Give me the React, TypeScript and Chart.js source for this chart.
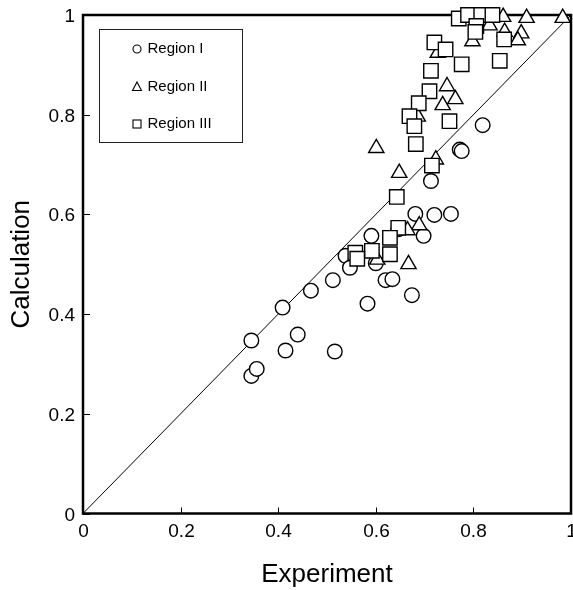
import React, { useEffect, useRef } from 'react';
import { Chart, registerables } from 'chart.js';

Chart.register(...registerables);

// Region I (circles)
const regionIX = [0.345, 0.356, 0.345, 0.409, 0.415, 0.440, 0.467, 0.516, 0.512, 0.538, 0.547, 0.583, 0.591, 0.600, 0.620, 0.634, 0.674, 0.681, 0.698, 0.720, 0.754, 0.713, 0.772, 0.776, 0.819, 0.646];
const regionIY = [0.276, 0.290, 0.347, 0.413, 0.327, 0.359, 0.447, 0.325, 0.468, 0.517, 0.493, 0.421, 0.557, 0.502, 0.468, 0.470, 0.438, 0.601, 0.557, 0.599, 0.601, 0.667, 0.730, 0.727, 0.779, 0.570];

// Region II (triangles)
const regionIIX = [0.601, 0.648, 0.723, 0.746, 0.763, 0.737, 0.686, 0.798, 0.861, 0.909, 0.983, 0.898, 0.891, 0.864, 0.833, 0.689, 0.665, 0.667, 0.603, 0.727];
const regionIIY = [0.733, 0.683, 0.710, 0.857, 0.831, 0.819, 0.796, 0.947, 0.996, 0.994, 0.994, 0.963, 0.949, 0.966, 0.979, 0.578, 0.568, 0.500, 0.509, 0.924];

// Region III (squares)
const regionIIIX = [0.770, 0.789, 0.816, 0.839, 0.806, 0.804, 0.863, 0.854, 0.776, 0.720, 0.743, 0.713, 0.710, 0.688, 0.669, 0.679, 0.682, 0.751, 0.715, 0.643, 0.646, 0.629, 0.592, 0.629, 0.558, 0.562];
const regionIIIY = [0.993, 1.000, 1.000, 1.000, 0.978, 0.966, 0.951, 0.908, 0.901, 0.945, 0.931, 0.888, 0.847, 0.823, 0.797, 0.777, 0.741, 0.787, 0.698, 0.635, 0.573, 0.553, 0.527, 0.520, 0.523, 0.511];

// y = x reference line
const diagonalX = [0, 1];
const diagonalY = [0, 1];

const seriesLabels = ['Region I', 'Region II', 'Region III'];
const xTickLabels = ['0', '0.2', '0.4', '0.6', '0.8', '1'];
const yTickLabels = ['0', '0.2', '0.4', '0.6', '0.8', '1'];
const xTitle = 'Experiment';
const yTitle = 'Calculation';

const FONT = "'Liberation Sans', Arial, Helvetica, sans-serif";
const TICK_FONT = `19px ${FONT}`;

const toPoints = (xs: number[], ys: number[]) => xs.map((x, i) => ({ x, y: ys[i] }));

const framePlugin = {
  id: 'frameTicks',
  beforeDatasetsDraw(chart: any) {
    const { ctx, chartArea, scales } = chart;
    const { left, right, top, bottom } = chartArea;
    ctx.save();
    ctx.strokeStyle = '#000';
    ctx.fillStyle = '#000';
    ctx.lineWidth = 1;
    ctx.font = TICK_FONT;
    scales.x.ticks.forEach((t: any, i: number) => {
      const px = Math.round(scales.x.getPixelForValue(t.value)) + 0.5;
      ctx.beginPath();
      ctx.moveTo(px, bottom);
      ctx.lineTo(px, bottom - 6);
      ctx.stroke();
      ctx.textAlign = 'center';
      ctx.textBaseline = 'top';
      ctx.fillText(xTickLabels[i], px, bottom + 9);
    });
    scales.y.ticks.forEach((t: any, i: number) => {
      const py = Math.round(scales.y.getPixelForValue(t.value)) + 0.5;
      ctx.beginPath();
      ctx.moveTo(left, py);
      ctx.lineTo(left + 7, py);
      ctx.stroke();
      ctx.textAlign = 'right';
      ctx.textBaseline = 'middle';
      ctx.fillText(yTickLabels[i], left - 8, py + 1);
    });
    ctx.lineWidth = 2.5;
    ctx.strokeRect(left, top, right - left, bottom - top);
    ctx.restore();
  },
};

const legendPlugin = {
  id: 'insideLegend',
  afterDraw(chart: any) {
    const { ctx } = chart;
    const bx = 99.5, by = 29.5, bw = 143, bh = 113;
    ctx.save();
    ctx.fillStyle = '#fff';
    ctx.fillRect(bx, by, bw, bh);
    ctx.strokeStyle = '#222';
    ctx.lineWidth = 1;
    ctx.strokeRect(bx, by, bw, bh);
    const rows = [49, 86.5, 124];
    const mx = 137;
    ctx.lineWidth = 1.1;
    ctx.strokeStyle = '#000';
    ctx.beginPath();
    ctx.arc(mx, rows[0], 4, 0, Math.PI * 2);
    ctx.stroke();
    const s = 9;
    ctx.beginPath();
    ctx.moveTo(mx, rows[1] - s * 0.5);
    ctx.lineTo(mx + s / 2, rows[1] + s * 0.45);
    ctx.lineTo(mx - s / 2, rows[1] + s * 0.45);
    ctx.closePath();
    ctx.stroke();
    const q = 8;
    ctx.strokeRect(mx - q / 2, rows[2] - q / 2, q, q);
    ctx.fillStyle = '#000';
    ctx.font = `15px ${FONT}`;
    ctx.textBaseline = 'middle';
    ctx.textAlign = 'left';
    seriesLabels.forEach((lab, i) => {
      ctx.fillText(lab, 147.5, rows[i]);
    });
    ctx.restore();
  },
};

export default function App() {
  const canvasRef = useRef<HTMLCanvasElement | null>(null);

  useEffect(() => {
    document.body.style.margin = '0';
    document.body.style.overflow = 'hidden';
    const canvas = canvasRef.current;
    if (!canvas) return;
    const markerCommon = {
      borderColor: '#000',
      backgroundColor: '#fff',
      borderWidth: 1.4,
      clip: false as any,
    };
    const chart = new Chart(canvas, {
      type: 'scatter',
      data: {
        datasets: [
          {
            label: seriesLabels[2],
            data: toPoints(regionIIIX, regionIIIY),
            pointStyle: 'rect',
            pointRadius: 10.2,
            order: 0,
            ...markerCommon,
          },
          {
            label: seriesLabels[1],
            data: toPoints(regionIIX, regionIIY),
            pointStyle: 'triangle',
            pointRadius: 8.8,
            order: 1,
            ...markerCommon,
          },
          {
            label: seriesLabels[0],
            data: toPoints(regionIX, regionIY),
            pointStyle: 'circle',
            pointRadius: 7.3,
            order: 2,
            ...markerCommon,
          },
          {
            label: 'y = x',
            data: toPoints(diagonalX, diagonalY),
            showLine: true,
            pointRadius: 0,
            borderColor: '#000',
            borderWidth: 1,
            order: 3,
            clip: false as any,
          },
        ],
      },
      options: {
        animation: false,
        responsive: true,
        maintainAspectRatio: false,
        layout: { autoPadding: false, padding: { top: 15, right: 2, left: 0, bottom: 0 } },
        plugins: {
          legend: { display: false },
          tooltip: { enabled: false },
        },
        scales: {
          x: {
            type: 'linear',
            min: 0,
            max: 1,
            grid: { display: false, drawTicks: false },
            border: { display: false },
            ticks: { stepSize: 0.2, display: false },
            title: {
              display: true,
              text: xTitle,
              color: '#000',
              font: { family: FONT, size: 26 },
              padding: { top: 0, bottom: 0 },
            },
            afterFit: (scale: any) => {
              scale.height = 76.5;
            },
          },
          y: {
            type: 'linear',
            min: 0,
            max: 1,
            grid: { display: false, drawTicks: false },
            border: { display: false },
            ticks: { stepSize: 0.2, display: false },
            title: {
              display: true,
              text: yTitle,
              color: '#000',
              font: { family: FONT, size: 26 },
              padding: { top: 6, bottom: 0 },
            },
            afterFit: (scale: any) => {
              scale.width = 83;
            },
          },
        },
      },
      plugins: [framePlugin, legendPlugin],
    });
    return () => chart.destroy();
  }, []);

  return (
    <div style={{ position: 'relative', width: 573, height: 590, background: '#fff', overflow: 'hidden' }}>
      <canvas ref={canvasRef} style={{ display: 'block' }} />
    </div>
  );
}
